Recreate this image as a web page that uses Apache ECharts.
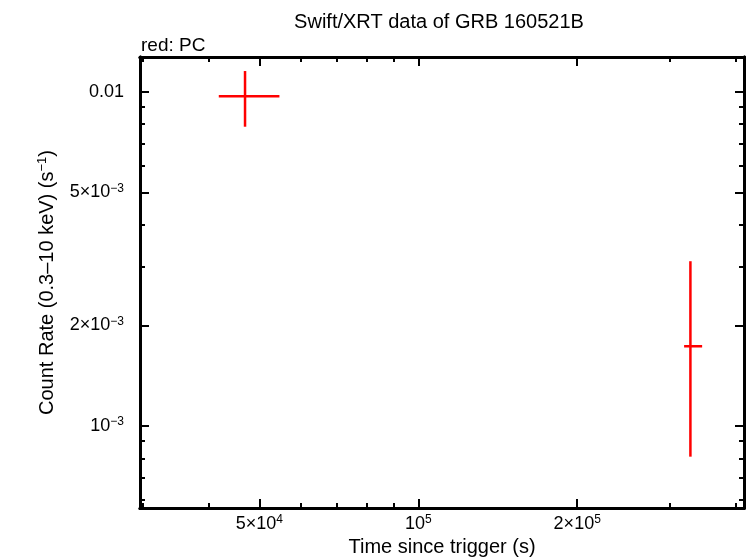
<!DOCTYPE html>
<html>
<head>
<meta charset="utf-8">
<script src="https://cdn.jsdelivr.net/npm/echarts@6/dist/echarts.min.js"></script>
<style>html,body{margin:0;padding:0;background:#fff}#c{width:746px;height:558px}</style>
</head>
<body>
<div id="c"></div>
<script>
// ---- data ----
const timeMid   = [46960, 327700];
const timeLo    = [41880, 318800];
const timeHi    = [54560, 344900];
const rateMid   = [0.009688, 0.001731];
const rateLo    = [0.007856, 0.000809];
const rateHi    = [0.01153, 0.003110];

const xMajorTicks = [5e4, 1e5, 2e5];
const xMajorLabels = ['{b|5×10}{s|4}', '{b|10}{s|5}', '{b|2×10}{s|5}'];
const xMinorTicks = [3e4, 4e4, 6e4, 7e4, 8e4, 9e4, 3e5, 4e5];
const yMajorTicks = [0.01, 5e-3, 2e-3, 1e-3];
const yMajorLabels = ['{b|0.01}', '{b|5×10}{s|−3}', '{b|2×10}{s|−3}', '{b|10}{s|−3}'];
const yMinorTicks = [6e-4, 7e-4, 8e-4, 9e-4, 3e-3, 4e-3, 6e-3, 7e-3, 8e-3, 9e-3];

const xMin = 29700, xMax = 414000;
const yMin = 5.68e-4, yMax = 0.0127;

const FONT = '"Liberation Sans", Arial, Helvetica, sans-serif';
const rich = {
  b: {fontSize: 18, fontFamily: FONT, color: '#000', lineHeight: 20},
  s: {fontSize: 12, fontFamily: FONT, color: '#000', lineHeight: 12, verticalAlign: 'top'}
};

function lab(ticks, labels) {
  return function (v) {
    for (let i = 0; i < ticks.length; i++) {
      if (Math.abs(v - ticks[i]) / ticks[i] < 1e-6) return labels[i];
    }
    return '';
  };
}

function xAx(pos, ticks, len, withLabel, extra) {
  return Object.assign({
    type: 'log', min: xMin, max: xMax, position: pos,
    axisLine: {show: true, onZero: false, lineStyle: {color: '#000', width: 3}},
    axisTick: {show: true, inside: true, length: len, customValues: ticks, lineStyle: {color: '#000', width: 2}},
    axisLabel: withLabel ? {show: true, customValues: xMajorTicks, formatter: lab(xMajorTicks, xMajorLabels), rich: rich, margin: 6} : {show: false},
    splitLine: {show: false}, minorTick: {show: false}, minorSplitLine: {show: false}
  }, extra || {});
}
function yAx(pos, ticks, len, withLabel, extra) {
  return Object.assign({
    type: 'log', min: yMin, max: yMax, position: pos,
    axisLine: {show: true, onZero: false, lineStyle: {color: '#000', width: 3}},
    axisTick: {show: true, inside: true, length: len, customValues: ticks, lineStyle: {color: '#000', width: 2}},
    axisLabel: withLabel ? {show: true, customValues: yMajorTicks, formatter: lab(yMajorTicks, yMajorLabels), rich: rich, margin: 16} : {show: false},
    splitLine: {show: false}, minorTick: {show: false}, minorSplitLine: {show: false}
  }, extra || {});
}

const data = timeMid.map((t, i) => [t, rateMid[i], timeLo[i], timeHi[i], rateLo[i], rateHi[i]]);

const chart = echarts.init(document.getElementById('c'), null, {renderer: 'canvas'});
chart.setOption({
  animation: false,
  backgroundColor: '#fff',
  title: [
    {text: 'Swift/XRT data of GRB 160521B', left: 434, top: 7, textAlign: 'center',
     textStyle: {fontSize: 20, fontWeight: 'normal', fontFamily: FONT, color: '#000'}},
    {text: 'red: PC', left: 136, top: 31,
     textStyle: {fontSize: 19, fontWeight: 'normal', fontFamily: FONT, color: '#000'}}
  ],
  grid: {left: 140, top: 57, right: 2, bottom: 50, containLabel: false, outerBoundsMode: 'none'},
  xAxis: [
    xAx('bottom', xMajorTicks, 9, true, {
      name: 'Time since trigger (s)', nameLocation: 'middle', nameGap: 28,
      nameTextStyle: {fontSize: 20, fontFamily: FONT, color: '#000'}
    }),
    xAx('bottom', xMinorTicks, 5, false),
    xAx('top', xMajorTicks, 9, false),
    xAx('top', xMinorTicks, 5, false)
  ],
  yAxis: [
    yAx('left', yMajorTicks, 9, true, {
      name: '{n|Count Rate (0.3–10 keV) (s}{m|−1}{n|)}', nameLocation: 'middle', nameGap: 82, nameRotate: 90,
      nameTextStyle: {fontSize: 20, fontFamily: FONT, color: '#000', rich: {
        n: {fontSize: 20, fontFamily: FONT, color: '#000', lineHeight: 22},
        m: {fontSize: 13, fontFamily: FONT, color: '#000', lineHeight: 13, verticalAlign: 'top'}
      }}
    }),
    yAx('left', yMinorTicks, 5, false),
    yAx('right', yMajorTicks, 9, false),
    yAx('right', yMinorTicks, 5, false)
  ],
  series: [{
    type: 'custom',
    xAxisIndex: 0, yAxisIndex: 0,
    data: data,
    encode: {x: [0, 2, 3], y: [1, 4, 5]},
    renderItem: function (params, api) {
      const x = api.value(0), y = api.value(1);
      const xl = api.value(2), xh = api.value(3), yl = api.value(4), yh = api.value(5);
      const pL = api.coord([xl, y]), pR = api.coord([xh, y]);
      const pB = api.coord([x, yl]), pT = api.coord([x, yh]);
      const style = {stroke: '#ff0000', lineWidth: 2.5, fill: null};
      return {
        type: 'group',
        children: [
          {type: 'line', shape: {x1: pL[0], y1: pL[1], x2: pR[0], y2: pR[1]}, style: style},
          {type: 'line', shape: {x1: pB[0], y1: pB[1], x2: pT[0], y2: pT[1]}, style: style}
        ]
      };
    }
  }]
});
</script>
</body>
</html>
